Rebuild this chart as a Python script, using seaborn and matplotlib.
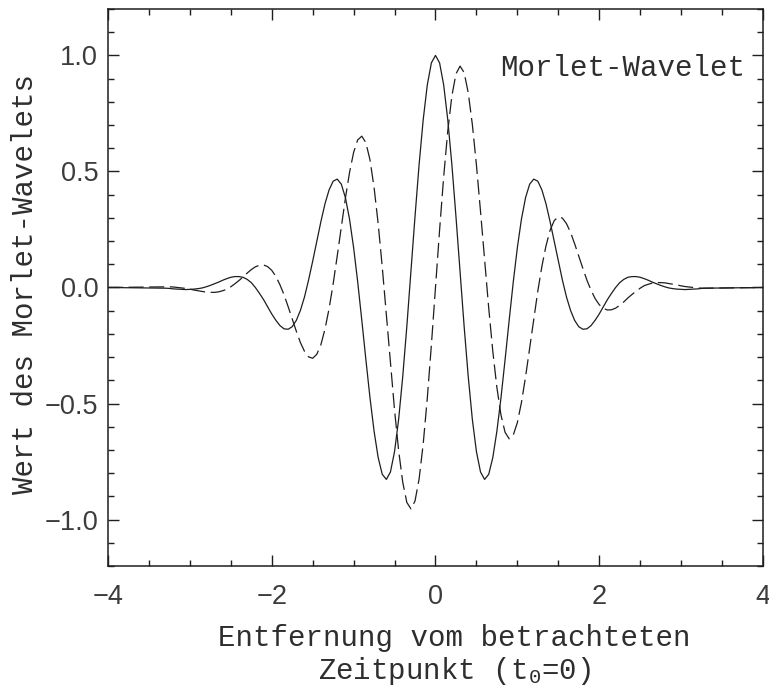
import matplotlib
matplotlib.use("Agg")
import matplotlib.pyplot as plt
from matplotlib.ticker import MultipleLocator
import seaborn as sns
import pandas as pd

# Zeitachse (Entfernung vom betrachteten Zeitpunkt)
t = [-4.0,
     -3.30, -3.25, -3.20, -3.15, -3.10, -3.05, -3.00, -2.95, -2.90, -2.85,
     -2.80, -2.75, -2.70, -2.65, -2.60, -2.55, -2.50, -2.45, -2.40, -2.35,
     -2.30, -2.25, -2.20, -2.15, -2.10, -2.05, -2.00, -1.95, -1.90, -1.85,
     -1.80, -1.75, -1.70, -1.65, -1.60, -1.55, -1.50, -1.45, -1.40, -1.35,
     -1.30, -1.25, -1.20, -1.15, -1.10, -1.05, -1.00, -0.95, -0.90, -0.85,
     -0.80, -0.75, -0.70, -0.65, -0.60, -0.55, -0.50, -0.45, -0.40, -0.35,
     -0.30, -0.25, -0.20, -0.15, -0.10, -0.05,
     0.00,
     0.05, 0.10, 0.15, 0.20, 0.25, 0.30, 0.35, 0.40, 0.45, 0.50,
     0.55, 0.60, 0.65, 0.70, 0.75, 0.80, 0.85, 0.90, 0.95, 1.00,
     1.05, 1.10, 1.15, 1.20, 1.25, 1.30, 1.35, 1.40, 1.45, 1.50,
     1.55, 1.60, 1.65, 1.70, 1.75, 1.80, 1.85, 1.90, 1.95, 2.00,
     2.05, 2.10, 2.15, 2.20, 2.25, 2.30, 2.35, 2.40, 2.45, 2.50,
     2.55, 2.60, 2.65, 2.70, 2.75, 2.80, 2.85, 2.90, 2.95, 3.00,
     3.05, 3.10, 3.15, 3.20, 3.25, 3.30,
     4.0]

# Realteil (durchgezogen)
realteil = [0.0,
    -0.003, -0.004, -0.006, -0.007, -0.008, -0.009, -0.008, -0.007, -0.005, -0.002,
    0.003, 0.009, 0.016, 0.023, 0.031, 0.038, 0.044, 0.047, 0.047, 0.044,
    0.035, 0.021, 0.000, -0.025, -0.052, -0.083, -0.114, -0.141, -0.164, -0.178,
    -0.180, -0.169, -0.142, -0.099, -0.041, 0.032, 0.113, 0.199, 0.283, 0.360,
    0.420, 0.458, 0.467, 0.445, 0.387, 0.295, 0.172, 0.024, -0.141, -0.311,
    -0.475, -0.619, -0.733, -0.805, -0.827, -0.795, -0.707, -0.568, -0.384, -0.168,
    0.068, 0.306, 0.530, 0.723, 0.873, 0.968,
    1.000,
    0.968, 0.873, 0.723, 0.530, 0.306, 0.068, -0.168, -0.384, -0.568, -0.707,
    -0.795, -0.827, -0.805, -0.733, -0.619, -0.475, -0.311, -0.141, 0.024, 0.172,
    0.295, 0.387, 0.445, 0.467, 0.458, 0.420, 0.360, 0.283, 0.199, 0.113,
    0.032, -0.041, -0.099, -0.142, -0.169, -0.180, -0.178, -0.164, -0.141, -0.114,
    -0.083, -0.052, -0.025, 0.000, 0.021, 0.035, 0.044, 0.047, 0.047, 0.044,
    0.038, 0.031, 0.023, 0.016, 0.009, 0.003, -0.002, -0.005, -0.007, -0.008,
    -0.009, -0.008, -0.007, -0.006, -0.004, -0.003,
    0.0]

# Imaginaerteil (gestrichelt)
imaginaerteil = [0.0,
    0.003, 0.003, 0.002, 0.000, -0.002, -0.004, -0.007, -0.011, -0.014, -0.017,
    -0.020, -0.021, -0.021, -0.019, -0.014, -0.008, 0.003, 0.016, 0.030, 0.045,
    0.062, 0.077, 0.089, 0.096, 0.097, 0.090, 0.074, 0.048, 0.012, -0.031,
    -0.082, -0.135, -0.188, -0.237, -0.275, -0.299, -0.305, -0.288, -0.247, -0.180,
    -0.092, 0.015, 0.136, 0.262, 0.385, 0.495, 0.582, 0.636, 0.652, 0.624,
    0.550, 0.431, 0.275, 0.088, -0.118, -0.328, -0.528, -0.703, -0.839, -0.926,
    -0.954, -0.920, -0.825, -0.674, -0.477, -0.247,
    0.000,
    0.247, 0.477, 0.674, 0.825, 0.920, 0.954, 0.926, 0.839, 0.703, 0.528,
    0.328, 0.118, -0.088, -0.275, -0.431, -0.550, -0.624, -0.652, -0.636, -0.582,
    -0.495, -0.385, -0.262, -0.136, -0.015, 0.092, 0.180, 0.247, 0.288, 0.305,
    0.299, 0.275, 0.237, 0.188, 0.135, 0.082, 0.031, -0.012, -0.048, -0.074,
    -0.090, -0.097, -0.096, -0.089, -0.077, -0.062, -0.045, -0.030, -0.016, -0.003,
    0.008, 0.014, 0.019, 0.021, 0.021, 0.020, 0.017, 0.014, 0.011, 0.007,
    0.004, 0.002, 0.000, -0.002, -0.003, -0.003,
    0.0]

x_ticks = [-4, -2, 0, 2, 4]
y_ticks = [-1.0, -0.5, 0.0, 0.5, 1.0]

df = pd.DataFrame({"t": t, "real": realteil, "imag": imaginaerteil})

sns.set_style("ticks")
plt.rcParams["font.family"] = ["Liberation Mono", "DejaVu Sans"]
plt.rcParams["mathtext.fontset"] = "custom"
plt.rcParams["mathtext.rm"] = "Liberation Mono"
plt.rcParams["mathtext.it"] = "Liberation Mono"
plt.rcParams["mathtext.default"] = "regular"

ink = "#1e1e1e"
txt = "#2e2e2e"

fig = plt.figure(figsize=(7.69, 6.92), dpi=100)
ax = fig.add_axes([0.1404, 0.1821, 0.8518, 0.8049])

sns.lineplot(data=df, x="t", y="real", ax=ax, color=ink, lw=0.9)
sns.lineplot(data=df, x="t", y="imag", ax=ax, color=ink, lw=0.9,
             linestyle=(0, (12, 4.5)))

ax.set_xlim(-4, 4)
ax.set_ylim(-1.2, 1.2)
ax.set_xticks(x_ticks)
ax.set_yticks(y_ticks)
ax.set_xticklabels([f"{v:d}".replace("-", "\u2212") for v in x_ticks])
ax.set_yticklabels([f"{v:.1f}".replace("-", "\u2212") for v in y_ticks])
ax.xaxis.set_minor_locator(MultipleLocator(0.5))
ax.yaxis.set_minor_locator(MultipleLocator(0.1))

ax.tick_params(which="both", direction="in", top=True, right=True,
               color=ink, width=1.0)
ax.tick_params(which="major", length=8)
ax.tick_params(which="minor", length=4)
ax.tick_params(axis="x", which="major", pad=13)
ax.tick_params(axis="y", which="major", pad=7)
for lab in ax.get_xticklabels() + ax.get_yticklabels():
    lab.set_fontfamily("Liberation Sans")
    lab.set_fontsize(19.5)
    lab.set_color("#3c3c3c")
for sp in ax.spines.values():
    sp.set_visible(True)
    sp.set_color(ink)
    sp.set_linewidth(1.1)

ax.set_xlabel("")
ax.set_ylabel("")

ax.text(0.9725, 0.894, "Morlet-Wavelet", transform=ax.transAxes,
        ha="right", va="center", fontsize=21, color=txt)

fig.text(454 / 769, 1 - 638 / 692, "Entfernung vom betrachteten",
         ha="center", va="center", fontsize=21, color=txt)
fig.text(454 / 769, 1 - 671 / 692, "Zeitpunkt (t$_0$=0)",
         ha="center", va="center", fontsize=21, color=txt)
fig.text(25 / 769, 1 - 284 / 692, "Wert des Morlet-Wavelets", rotation=90,
         ha="center", va="center", fontsize=21, color=txt)

fig.savefig("out.png", dpi=100)
